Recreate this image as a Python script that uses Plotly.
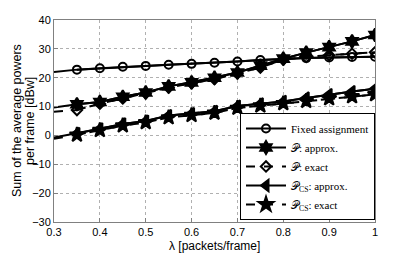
import plotly.graph_objects as go

lam = [0.30, 0.35, 0.40, 0.45, 0.50, 0.55, 0.60, 0.65, 0.70, 0.75, 0.80, 0.85, 0.90, 0.95, 1.00]
fixed = [22.0, 22.8, 23.3, 23.8, 24.1, 24.5, 24.8, 25.2, 25.6, 26.1, 26.5, 26.8, 27.0, 27.2, 27.3]
p_approx = [9.7, 10.8, 11.6, 13.4, 14.9, 17.0, 18.4, 20.0, 21.8, 24.2, 26.6, 28.7, 30.6, 32.6, 34.8]
p_exact = [8.2, 8.8, 11.0, 12.8, 14.6, 16.6, 18.1, 19.5, 21.5, 23.5, 26.3, 27.2, 27.8, 28.3, 28.8]
pcs_approx = [-0.7, 0.7, 2.3, 4.0, 5.0, 6.9, 7.6, 8.4, 10.2, 11.0, 11.8, 13.0, 14.2, 15.2, 16.2]
pcs_exact = [-1.2, 0.2, 1.8, 3.4, 4.5, 6.2, 7.0, 7.8, 9.5, 10.3, 11.1, 11.9, 12.8, 13.5, 14.2]

names = ["Fixed assignment", "𝒫: approx.", "𝒫: exact",
         "𝒫<sub>CS</sub>: approx.", "𝒫<sub>CS</sub>: exact"]
series = [fixed, p_approx, p_exact, pcs_approx, pcs_exact]
symbols = ["circle-open", "hexagram", "diamond-open", "triangle-left", "star"]
sizes = [8, 10, 8, 10, 11]
dashes = ["solid", "solid", "dash", "solid", "dash"]

ylab_lines = ["Sum of the average powers", "per frame [dBw]"]
xlab = "λ [packets/frame]"

fig = go.Figure()
for name, ys, sym, sz, dsh in zip(names, series, symbols, sizes, dashes):
    fig.add_trace(go.Scatter(x=lam, y=ys, mode="lines", showlegend=False,
                             line=dict(color="black", width=2, dash=dsh),
                             hoverinfo="skip"))
    fig.add_trace(go.Scatter(x=lam[1:], y=ys[1:], mode="lines+markers", name=name,
                             line=dict(color="black", width=2, dash=dsh),
                             marker=dict(symbol=sym, size=sz, color="black",
                                         line=dict(color="black", width=2))))

axis_common = dict(showline=True, linecolor="#808080", linewidth=1, mirror=True,
                   ticks="inside", ticklen=4, tickcolor="#808080",
                   showgrid=True, gridcolor="#b0b0b0", griddash="dot", gridwidth=1,
                   zeroline=False, automargin=False,
                   tickfont=dict(family="Liberation Sans", size=11, color="black"))

ann_font = dict(size=12, family="Liberation Sans", color="black")
yt_font = dict(size=12.5, family="Liberation Sans", color="black")
fig.update_layout(
    width=415, height=257,
    margin=dict(l=46, r=48, t=12, b=43),
    paper_bgcolor="white", plot_bgcolor="white",
    font=dict(family="Liberation Sans", color="black"),
    xaxis=dict(range=[0.3, 1.0], tickvals=[0.3, 0.4, 0.5, 0.6, 0.7, 0.8, 0.9, 1.0],
               ticktext=["0.3", "0.4", "0.5", "0.6", "0.7", "0.8", "0.9", "1"],
               **axis_common),
    yaxis=dict(range=[-30, 40], tickvals=[-30, -20, -10, 0, 10, 20, 30, 40],
               **axis_common),
    legend=dict(x=1.0, xanchor="right", y=0.01, yanchor="bottom",
                bgcolor="white", bordercolor="black", borderwidth=1,
                font=dict(family="Liberation Serif", size=11, color="black"),
                itemwidth=40, tracegroupgap=0),
    annotations=[
        dict(text=ylab_lines[0], xref="paper", yref="paper", x=0, y=0.5, xshift=-37,
             xanchor="center", yanchor="middle", textangle=-90, showarrow=False, font=yt_font),
        dict(text=ylab_lines[1], xref="paper", yref="paper", x=0, y=0.5, xshift=-24,
             xanchor="center", yanchor="middle", textangle=-90, showarrow=False, font=yt_font),
        dict(text=xlab, xref="paper", yref="paper", x=0.5, y=0, yshift=-24,
             xanchor="center", yanchor="middle", showarrow=False, font=ann_font),
    ],
)

fig.write_html("out.html")
